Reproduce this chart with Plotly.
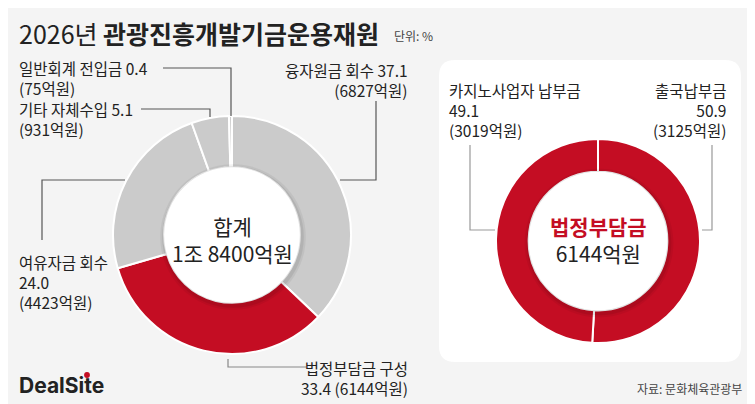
import plotly.graph_objects as go

W, H = 755, 404

# ---- data ----
left_labels = ["융자원금 회수", "법정부담금 구성", "여유자금 회수", "기타 자체수입", "일반회계 전입금"]
left_values = [37.1, 33.4, 24.0, 5.1, 0.4]
left_amounts = ["6827억원", "6144억원", "4423억원", "931억원", "75억원"]
right_labels = ["출국납부금", "카지노사업자 납부금"]
right_values = [50.9, 49.1]
right_amounts = ["3125억원", "3019억원"]

RED = "#c40d23"
GRAY = "#cbcbcb"
BG = "#f4f4f4"
TXT = "#222222"
FONT = "Noto Sans CJK KR"


def px(x):
    return x / W


def py(y):
    return 1 - y / H


def dom(cx, cy, r):
    return dict(x=[px(cx - r), px(cx + r)], y=[py(cy + r), py(cy - r)])


LC, LR = (224, 227), 119
RC, RR = (590, 233), 102
L_HOLE, R_HOLE = 0.57, 0.68

fig = go.Figure()
fig.add_trace(go.Pie(
    labels=left_labels, values=left_values, sort=False, direction="clockwise", rotation=0,
    hole=L_HOLE, domain=dom(LC[0], LC[1], LR),
    marker=dict(colors=[GRAY, RED, GRAY, GRAY, GRAY], line=dict(color="white", width=2)),
    textinfo="none", hoverinfo="label+value", showlegend=False,
))
fig.add_trace(go.Pie(
    labels=right_labels, values=right_values, sort=False, direction="clockwise", rotation=0,
    hole=R_HOLE, domain=dom(RC[0], RC[1], RR),
    marker=dict(colors=[RED, RED], line=dict(color="white", width=2)),
    textinfo="none", hoverinfo="label+value", showlegend=False,
))

shapes = []


def rounded_rect(x0, y0, x1, y1, r):
    X0, X1 = px(x0), px(x1)
    Y0, Y1 = py(y0), py(y1)
    rx, ry = r / W, r / H
    return (f"M {X0+rx},{Y0} L {X1-rx},{Y0} Q {X1},{Y0} {X1},{Y0-ry} "
            f"L {X1},{Y1+ry} Q {X1},{Y1} {X1-rx},{Y1} L {X0+rx},{Y1} "
            f"Q {X0},{Y1} {X0},{Y1+ry} L {X0},{Y0-ry} Q {X0},{Y0} {X0+rx},{Y0} Z")


shapes.append(dict(type="path", xref="paper", yref="paper", layer="below",
                   path=rounded_rect(431, 52, 733, 354, 16),
                   fillcolor="white", line=dict(width=0)))


def circle(cx, cy, r, color, layer="above"):
    return dict(type="circle", xref="paper", yref="paper", layer=layer,
                x0=px(cx - r), x1=px(cx + r), y0=py(cy + r), y1=py(cy - r),
                fillcolor=color, line=dict(width=0))


# inner circles with soft shadow
lr_in = LR * L_HOLE
rr_in = RR * R_HOLE
for cx, cy, r in [(LC[0], LC[1], lr_in), (RC[0], RC[1], rr_in)]:
    shapes.append(circle(cx + 1, cy + 2, r + 5, "rgba(0,0,0,0.05)"))
    shapes.append(circle(cx + 1, cy + 2, r + 3, "rgba(0,0,0,0.07)"))
    shapes.append(circle(cx, cy, r, "white"))


def leader(points, color="#555555"):
    p = " L ".join(f"{px(x)},{py(y)}" for x, y in points)
    return dict(type="path", xref="paper", yref="paper", path="M " + p,
                line=dict(color=color, width=1.2))


shapes += [
    leader([(155, 60), (223, 60), (223, 108)]),
    leader([(133, 101), (202, 101), (202, 109)]),
    leader([(368, 93), (368, 172), (332, 172)]),
    leader([(117, 172), (34, 172), (34, 232)]),
    leader([(220, 351), (220, 359), (298, 359)], "#888888"),
    leader([(462, 137), (462, 222), (487, 222)], "#999999"),
    leader([(704, 137), (704, 222), (694, 222)], "#999999"),
]

annotations = []


def ann(text, x, y, size, anchor="left", color=TXT, bold=False, family=FONT):
    if bold:
        text = f"<b>{text}</b>"
    annotations.append(dict(text=text, x=px(x), y=py(y), xref="paper", yref="paper",
                            xanchor=anchor, yanchor="middle", showarrow=False, align=anchor,
                            font=dict(family=family, size=size, color=color)))


ann("2026년 <b>관광진흥개발기금운용재원</b>", 9, 25, 25)
ann("단위: %", 384, 27, 12, color="#444444")

LS = 15.5
ann(f"{left_labels[4]} {left_values[4]}<br>({left_amounts[4]})", 9, 70, LS)
ann(f"{left_labels[3]} {left_values[3]}<br>({left_amounts[3]})", 9, 111, LS)
ann(f"{left_labels[0]} {left_values[0]}<br>({left_amounts[0]})", 402, 72, LS, "right")
ann(f"{left_labels[2]}<br>{left_values[2]:.1f}<br>({left_amounts[2]})", 9, 274, LS)
ann(f"{left_labels[1]}<br>{left_values[1]} ({left_amounts[1]})", 402, 370, LS, "right")

ann("합계<br>1조 8400억원", LC[0], 232, 21, "center")

ann(f"{right_labels[1]}<br>{right_values[1]}<br>({right_amounts[1]})", 439, 102, 15.5)
ann(f"{right_labels[0]}<br>{right_values[0]}<br>({right_amounts[0]})", 720, 102, 15.5, "right")

ann(f"<span style='color:{RED}'><b>법정부담금</b></span><br>6144억원", RC[0], 232, 21, "center")

ann("자료: 문화체육관광부", 736, 380, 12, "right", color="#444444")
ann("<b>DealSite</b>", 9, 377, 21, family="Inter")
shapes.append(circle(79, 367, 2.9, RED))

fig.update_layout(
    width=W, height=H, margin=dict(l=0, r=0, t=0, b=0),
    paper_bgcolor=BG, plot_bgcolor=BG,
    shapes=shapes, annotations=annotations, showlegend=False,
)

fig.write_html("out.html")
